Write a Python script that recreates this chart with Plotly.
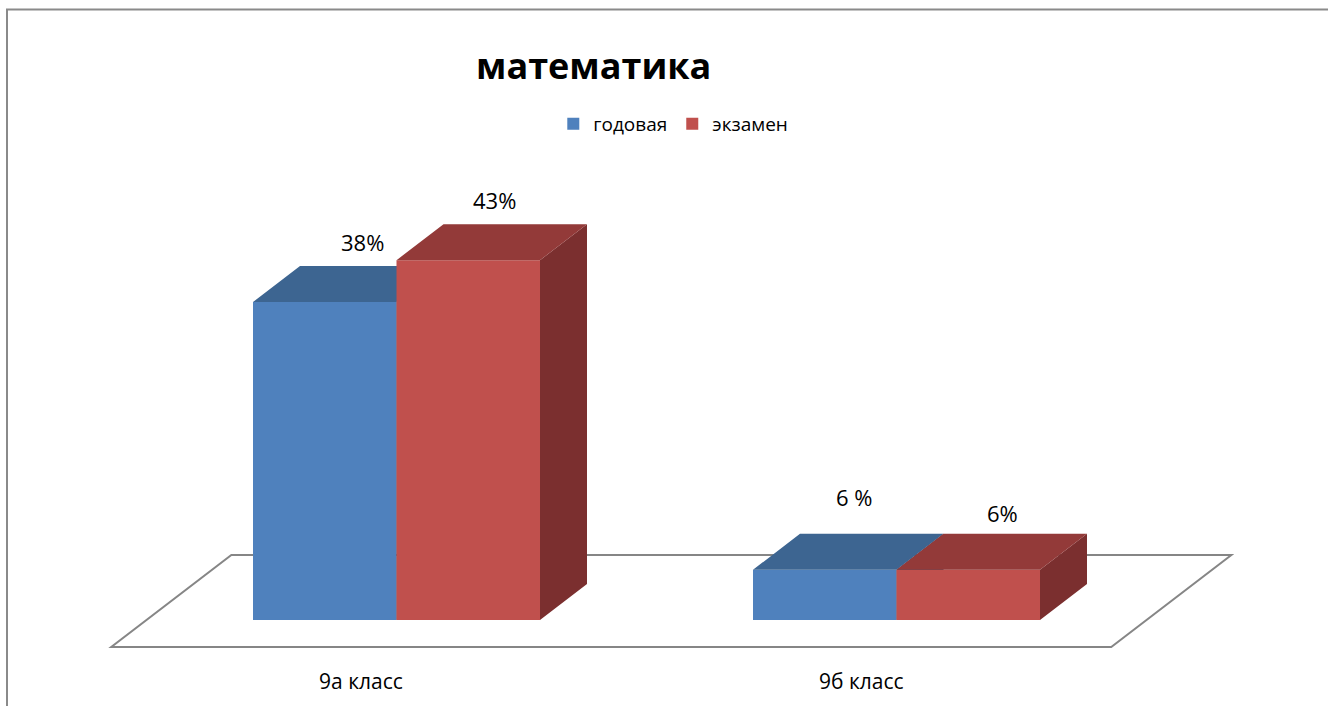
import plotly.graph_objects as go

# ---------------- data ----------------
categories = ["9а класс", "9б класс"]
series_names = ["годовая", "экзамен"]
godovaya = [38, 6]
ekzamen = [43, 6]
labels_godovaya = ["38%", "6 %"]
labels_ekzamen = ["43%", "6%"]
title_text = "математика"

# ---------------- style / geometry ----------------
W, H = 1328, 706
FONT = "Open Sans"
X0_PX, PX_PER_CAT = 396.5, 500.0       # pixel of category 0, pixels per category
Y0_PX, PX_PER_PCT = 620.0, 8.368       # pixel of 0 %, pixels per percent
xr = [(0 - X0_PX) / PX_PER_CAT, (W - X0_PX) / PX_PER_CAT]
yr = [(Y0_PX - H) / PX_PER_PCT, Y0_PX / PX_PER_PCT]

BAR_W = 143.5 / PX_PER_CAT
DX_PX, DY_PX = 47.0, 36.0               # 3-D depth projection of a bar
DX, DY = DX_PX / PX_PER_CAT, DY_PX / PX_PER_PCT
FLOOR_FRONT_PX, FLOOR_BACK_PX = 27.0, 65.0

colors_front = ["#4F81BD", "#C0504D"]
colors_top = ["#3D6591", "#933A39"]
colors_side = ["#30507A", "#7B2F2F"]
label_nudge = [[(38, 60), (29, 73)], [(26, 60), (34, 57)]]  # (xshift, yshift) px

series_values = [godovaya, ekzamen]
series_labels = [labels_godovaya, labels_ekzamen]
cat_pos = list(range(len(categories)))

fig = go.Figure()

for s, (name, vals) in enumerate(zip(series_names, series_values)):
    xa, ya = ("x", "y") if s == 0 else ("x2", "y2")
    off = -BAR_W + s * BAR_W
    # front faces
    fig.add_trace(go.Bar(
        x=cat_pos, y=vals, width=BAR_W, offset=off, name=name,
        marker=dict(color=colors_front[s], line=dict(width=0)),
        xaxis=xa, yaxis=ya, hoverinfo="skip", showlegend=True))
    # top & side faces
    tx, ty, sx, sy = [], [], [], []
    for c, v in zip(cat_pos, vals):
        x0 = c + off
        x1 = x0 + BAR_W
        tx += [x0, x1, x1 + DX, x0 + DX, x0, None]
        ty += [v, v, v + DY, v + DY, v, None]
        sx += [x1, x1, x1 + DX, x1 + DX, x1, None]
        sy += [0, v, v + DY, DY, 0, None]
    fig.add_trace(go.Scatter(x=sx, y=sy, mode="lines", fill="toself",
                             fillcolor=colors_side[s], line=dict(width=0),
                             xaxis=xa, yaxis=ya, hoverinfo="skip", showlegend=False))
    fig.add_trace(go.Scatter(x=tx, y=ty, mode="lines", fill="toself",
                             fillcolor=colors_top[s], line=dict(width=0),
                             xaxis=xa, yaxis=ya, hoverinfo="skip", showlegend=False))
    # data labels
    for c, v, lab, (xs, ys) in zip(cat_pos, vals, series_labels[s], label_nudge[s]):
        fig.add_annotation(x=c + off + BAR_W / 2, y=v, xref="x", yref="y",
                           text=lab, showarrow=False, xshift=xs, yshift=ys,
                           xanchor="center", yanchor="middle",
                           font=dict(family=FONT, size=22, color="#000000"))

# floor (parallelogram under the bars)
n = len(categories)
fdx_f = FLOOR_FRONT_PX * DX_PX / DY_PX / PX_PER_CAT
fdy_f = FLOOR_FRONT_PX / PX_PER_PCT
fdx_b = FLOOR_BACK_PX * DX_PX / DY_PX / PX_PER_CAT
fdy_b = FLOOR_BACK_PX / PX_PER_PCT
xl, xrr = -0.5, n - 0.5
path = (f"M{xl - fdx_f},{-fdy_f} L{xrr - fdx_f},{-fdy_f} "
        f"L{xrr + fdx_b},{fdy_b} L{xl + fdx_b},{fdy_b} Z")
fig.add_shape(type="path", path=path, xref="x", yref="y", layer="below",
              line=dict(color="#868686", width=2), fillcolor="white")

# category labels along the floor front edge
for c, cat in zip(cat_pos, categories):
    fig.add_annotation(x=c - fdx_f, y=1 - 681 / H, xref="x", yref="paper",
                       text=cat, showarrow=False,
                       xanchor="center", yanchor="middle",
                       font=dict(family=FONT, size=21, color="#000000"))

# title
fig.add_annotation(x=593 / W, y=1 - 65 / H, xref="paper", yref="paper",
                   text=f"<b>{title_text}</b>", showarrow=False,
                   xanchor="center", yanchor="middle",
                   font=dict(family=FONT, size=36, color="#000000"))

# chart frame
fig.add_shape(type="rect", xref="paper", yref="paper",
              x0=7 / W, x1=1.01, y0=-0.02, y1=1 - 9.5 / H,
              line=dict(color="#8A8A8A", width=2), fillcolor="rgba(0,0,0,0)")

axis_common = dict(visible=False, showgrid=False, zeroline=False, fixedrange=True)
fig.update_layout(
    width=W, height=H,
    margin=dict(l=0, r=0, t=0, b=0),
    paper_bgcolor="white", plot_bgcolor="white",
    barmode="overlay",
    xaxis=dict(range=xr, domain=[0, 1], **axis_common),
    yaxis=dict(range=yr, domain=[0, 1], **axis_common),
    xaxis2=dict(range=xr, overlaying="x", anchor="y2", **axis_common),
    yaxis2=dict(range=yr, overlaying="y", anchor="x2", **axis_common),
    legend=dict(orientation="h", x=0.507, xanchor="center",
                y=1 - 124 / H, yanchor="middle",
                font=dict(family=FONT, size=19, color="#000000"),
                bgcolor="rgba(0,0,0,0)", itemwidth=30),
    showlegend=True,
)

fig.write_html("out.html",
               config={"displayModeBar": False},
               post_script="document.body.style.margin='0';"
                           "document.body.style.overflow='hidden';")
